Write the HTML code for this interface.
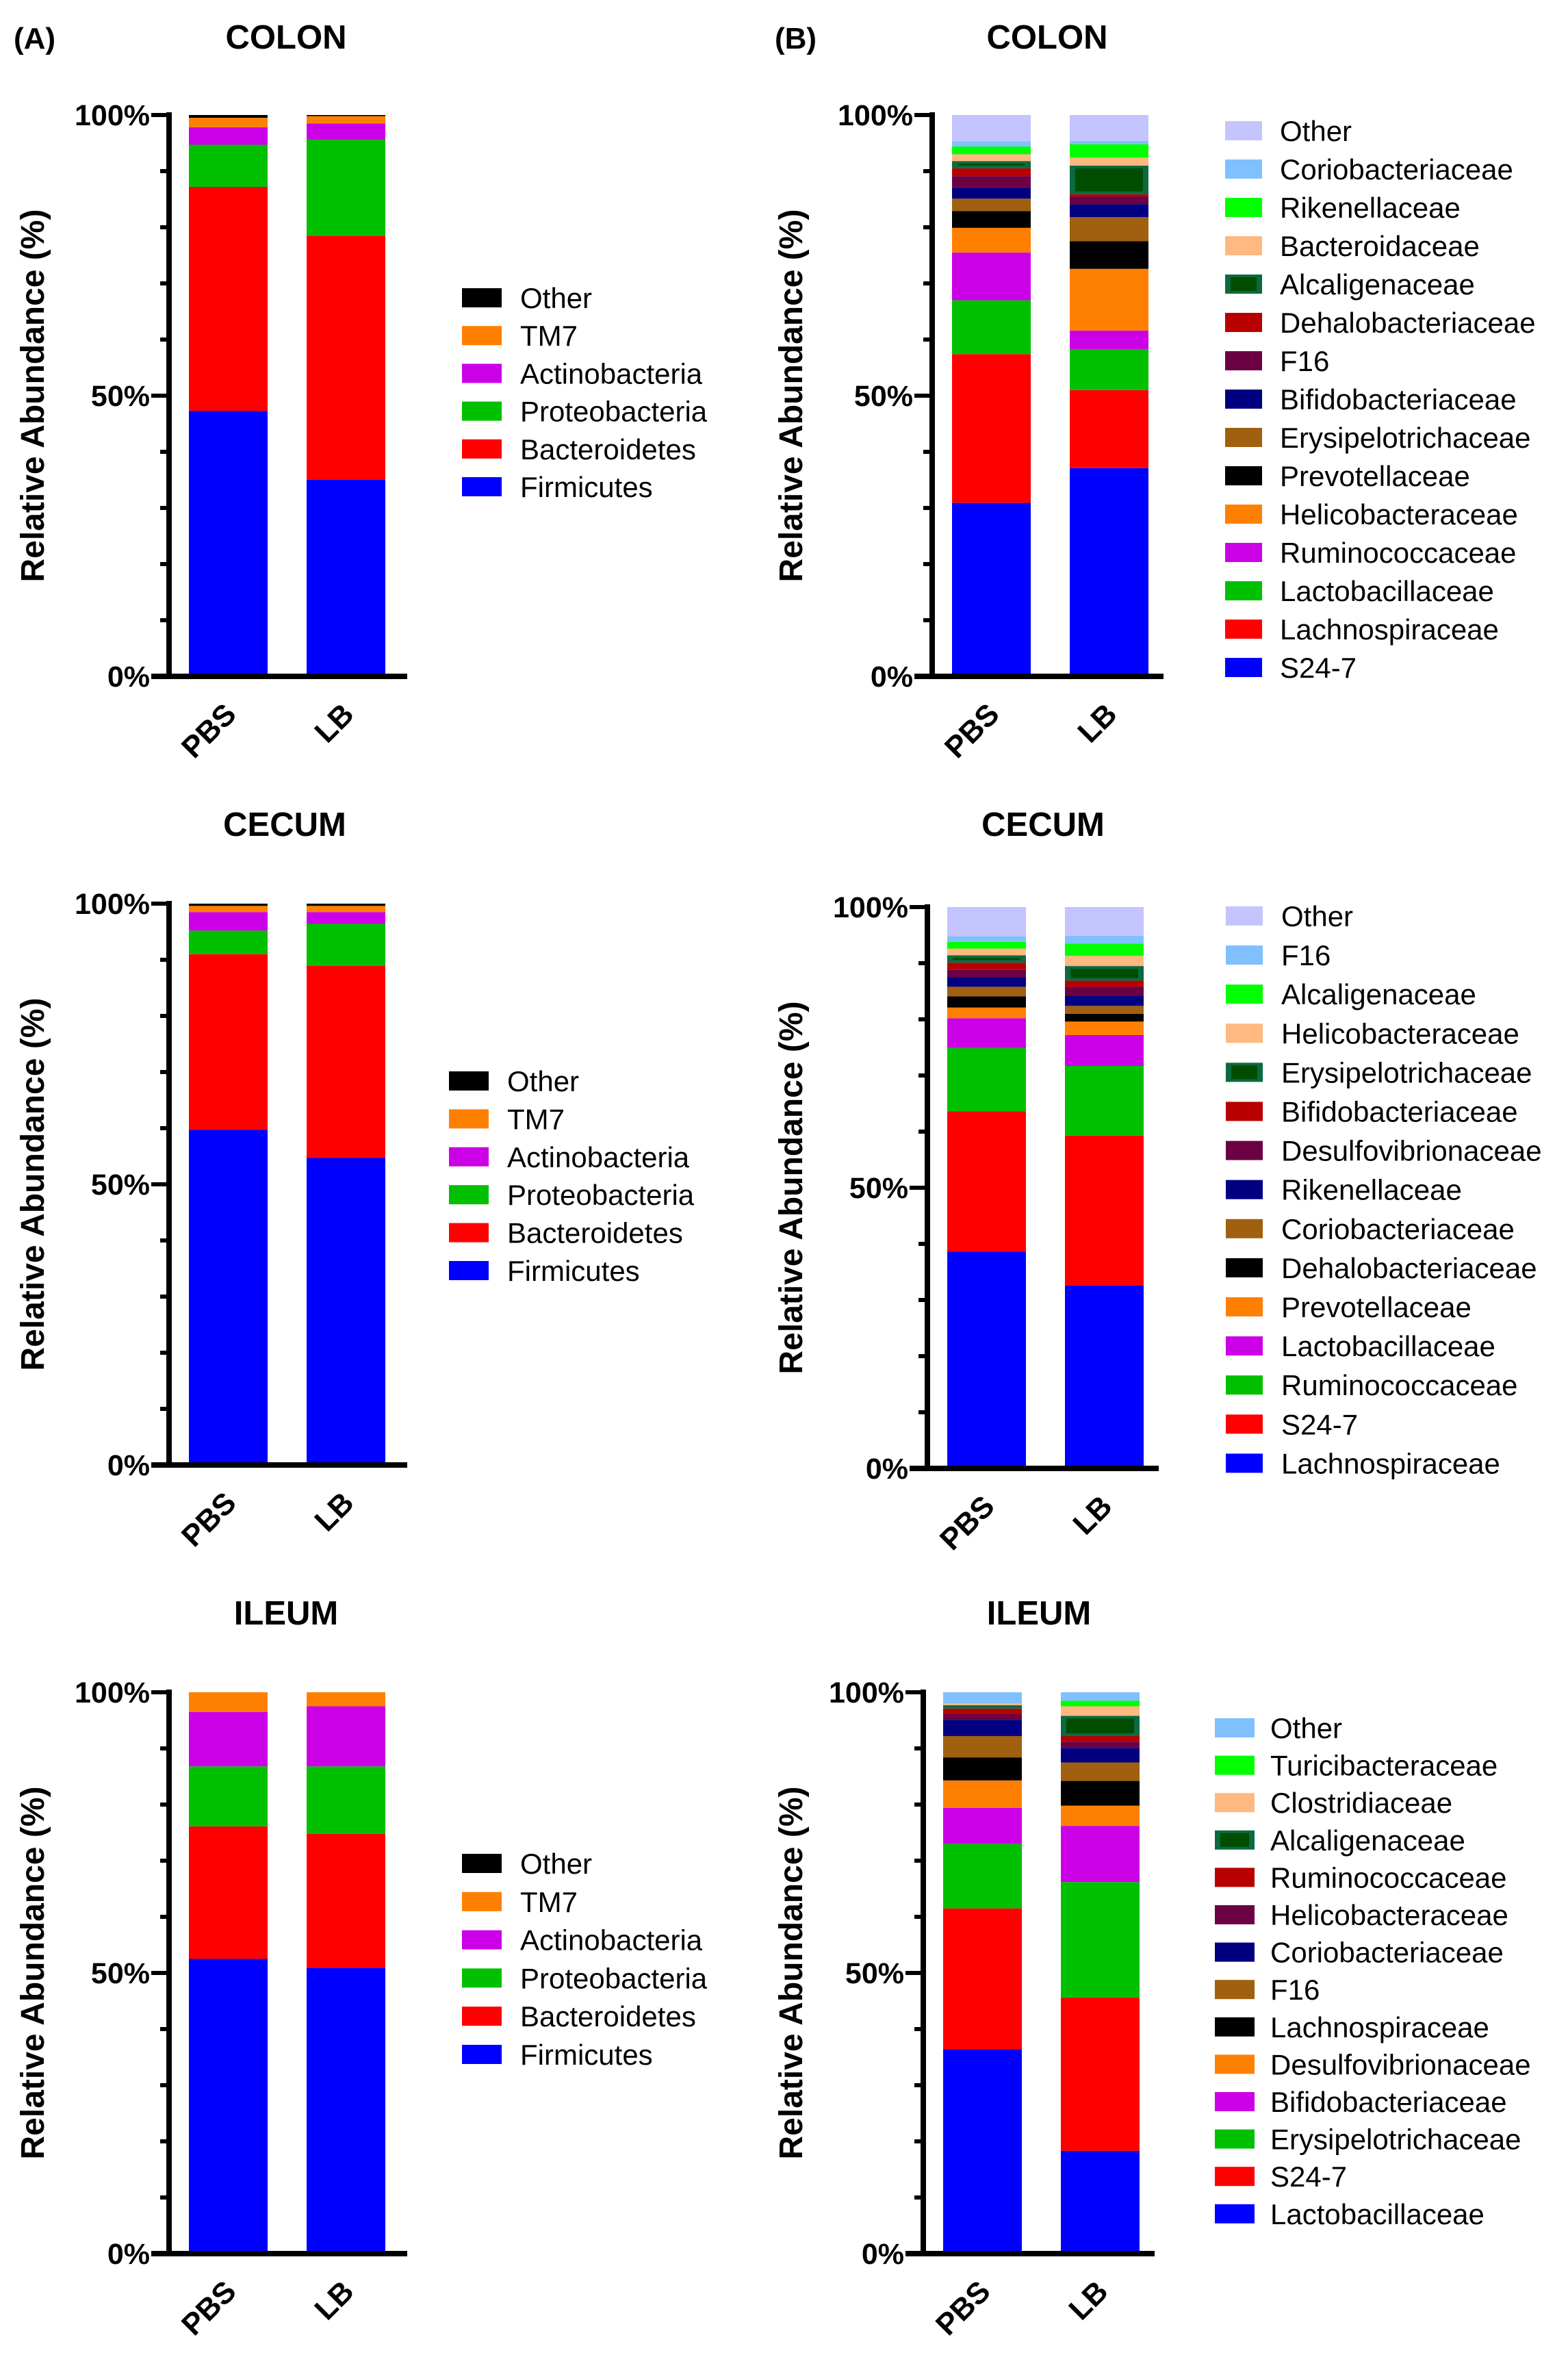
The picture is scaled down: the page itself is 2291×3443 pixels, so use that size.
<!DOCTYPE html>
<html><head><meta charset="utf-8"><style>
html,body{margin:0;padding:0;background:#fff;}
svg{display:block;font-family:"Liberation Sans",Arial,sans-serif;}
</style></head><body>
<svg id="fig" xmlns="http://www.w3.org/2000/svg" width="2291" height="3443" viewBox="0 0 2291 3443"></svg>
<script>
// ---------- DATA ----------
const categories = ["PBS", "LB"];
const yTicks = [0, 50, 100];
const yTickLabels = ["0%", "50%", "100%"];

const phylaNames = ["Firmicutes","Bacteroidetes","Proteobacteria","Actinobacteria","TM7","Other"];
const colonA_PBS = [47.3,39.9,7.5,3.1,1.7,0.5];
const colonA_LB  = [35.0,43.5,17.1,2.9,1.3,0.2];
const cecumA_PBS = [59.7,31.3,4.2,3.3,1.1,0.4];
const cecumA_LB  = [54.7,34.2,7.5,2.1,1.1,0.4];
const ileumA_PBS = [52.5,23.6,10.7,9.7,3.5,0];
const ileumA_LB  = [50.9,23.9,12.0,10.7,2.5,0];

const colonB_names = ["S24-7","Lachnospiraceae","Lactobacillaceae","Ruminococcaceae","Helicobacteraceae","Prevotellaceae","Erysipelotrichaceae","Bifidobacteriaceae","F16","Dehalobacteriaceae","Alcaligenaceae","Bacteroidaceae","Rikenellaceae","Coriobacteriaceae","Other"];
const colonB_PBS = [30.9,26.5,9.6,8.5,4.4,3.0,2.2,2.0,2.0,1.4,1.3,1.2,1.4,0.9,4.7];
const colonB_LB  = [37.1,13.9,7.3,3.3,11.0,4.9,4.3,2.3,1.4,0.4,5.1,1.4,2.4,0.6,4.6];

const cecumB_names = ["Lachnospiraceae","S24-7","Ruminococcaceae","Lactobacillaceae","Prevotellaceae","Dehalobacteriaceae","Coriobacteriaceae","Rikenellaceae","Desulfovibrionaceae","Bifidobacteriaceae","Erysipelotrichaceae","Helicobacteraceae","Alcaligenaceae","F16","Other"];
const cecumB_PBS = [38.6,25.0,11.3,5.3,1.9,2.0,1.7,1.7,1.3,1.3,1.3,1.2,1.2,1.0,5.2];
const cecumB_LB  = [32.6,26.7,12.4,5.5,2.4,1.4,1.4,1.8,1.6,1.1,2.6,1.8,2.2,1.4,5.1];

const ileumB_names = ["Lactobacillaceae","S24-7","Erysipelotrichaceae","Bifidobacteriaceae","Desulfovibrionaceae","Lachnospiraceae","F16","Coriobacteriaceae","Helicobacteraceae","Ruminococcaceae","Alcaligenaceae","Clostridiaceae","Turicibacteraceae","Other"];
const ileumB_PBS = [36.4,25.1,11.5,6.4,4.9,4.1,3.8,2.9,1.0,1.0,0.6,0.3,0,2.0];
const ileumB_LB  = [18.3,27.3,20.6,10.0,3.6,4.4,3.3,2.6,1.1,1.0,3.6,1.7,1.0,1.5];

// ---------- STYLE ----------
const palette = ["#0000ff","#ff0000","#00c000","#cc00e6","#ff8000","#000000","#a0600f","#000080","#6b0045","#b80000","ALC","#ffb980","#00ff00","#80c0ff","#c4c4ff"];
const paletteA = ["#0000ff","#ff0000","#00c000","#cc00e6","#ff8000","#000000"];
const ileumPal = palette.slice(0,13).concat(["#80c0ff"]);

const NS = "http://www.w3.org/2000/svg";
const svg = document.getElementById("fig");
function mk(tag, attrs, parent){
  const e = document.createElementNS(NS, tag);
  for (const k in attrs) e.setAttribute(k, attrs[k]);
  (parent||svg).appendChild(e);
  return e;
}
function fillRect(g, x, y, w, h, col){
  if (col === "ALC"){
    const r = mk("rect",{x:x,y:y,width:w,height:h,fill:"#0b6a40"},g);
    if (h > 10) mk("rect",{x:x+8,y:y+4,width:w-16,height:h-8,fill:"#004d00"},g);
    return r;
  }
  return mk("rect",{x:x,y:y,width:w,height:h,fill:col},g);
}

function drawPanel(p){
  const g = mk("g",{});
  
  
  const y0 = p.top + 820, yS = v => y0 - v/100*820;
  const xBar = i => p.axisX + 29 + i*172;
  const bw = 115;
  const t = mk("text",{x:p.titleX,y:p.titleY,"font-size":49,"font-weight":"bold","text-anchor":"middle"},g);
  t.textContent = p.title;
  
  
  if (p.letter){
    const l = mk("text",{x:p.letterX,y:p.titleY,"font-size":44,"font-weight":"bold"},g);
    l.textContent = p.letter;
    
    
  }
  p.series.forEach((vals, ci) => {
    const bg = mk("g",{},g);
    
    
    let acc = 0;
    vals.forEach((v, si) => {
      if (v <= 0) { return; }
      const yt = yS(acc + v), yb = yS(acc);
      const r = fillRect(bg, xBar(ci), yt, bw, yb - yt, p.colors[si]);
      
      
      acc += v;
    });
  });
  const ax = mk("g",{},g);
  
  
  mk("line",{x1:p.axisX,y1:p.top-4,x2:p.axisX,y2:y0+4,stroke:"#000","stroke-width":8},ax);
  mk("line",{x1:p.axisX-26,y1:y0,x2:xBar(1)+bw+p.xEnd,y2:y0,stroke:"#000","stroke-width":8},ax);
  for (let v = 0; v <= 100; v += 10){
    const major = yTicks.indexOf(v) >= 0;
    mk("line",{x1:p.axisX-(major?26:13),y1:yS(v),x2:p.axisX,y2:yS(v),stroke:"#000","stroke-width":6},ax);
  }
  yTicks.forEach((v, i) => {
    const tl = mk("text",{x:p.axisX-28,y:yS(v)+15,"font-size":43,"font-weight":"bold","text-anchor":"end"},ax);
    tl.textContent = yTickLabels[i];
    
    
  });
  categories.forEach((c, i) => {
    const cx = xBar(i) + bw/2 + 14, cy = y0 + 58;
    const xl = mk("text",{x:cx,y:cy,"font-size":44,"font-weight":"bold","text-anchor":"end",transform:"rotate(-45 "+cx+" "+cy+")"},ax);
    xl.textContent = c;
    
    
  });
  const ytx = p.yTitleX, yty = p.top + 410;
  const yt = mk("text",{x:ytx,y:yty,"font-size":48,"font-weight":"bold","text-anchor":"middle",transform:"rotate(-90 "+ytx+" "+yty+")"},ax);
  yt.textContent = "Relative Abundance (%)";
  
  
  const lg = mk("g",{},g);
  
  
  const n = p.names.length;
  for (let k = 0; k < n; k++){
    const si = n - 1 - k;
    const cy = p.legTop + k*p.legStep;
    const e = mk("g",{},lg);
    
    
    fillRect(e, p.swX, cy-14, p.swW, 28, p.colors[si]);
    const tx = mk("text",{x:p.txX,y:cy+15,"font-size":42},e);
    tx.textContent = p.names[si];
  }
}

const A = {axisX:247, yTitleX:64, swX:675, swW:58, txX:760, xEnd:32, legStep:55.2};
const B = {yTitleX:1172, swW:54, xEnd:22};
drawPanel(Object.assign({},A,{id:"colon-a",title:"COLON",titleX:418,titleY:71,letter:"(A)",letterX:20,top:168,series:[colonA_PBS,colonA_LB],names:phylaNames,colors:paletteA,legTop:435}));
drawPanel(Object.assign({},A,{id:"cecum-a",title:"CECUM",titleX:416,titleY:1221,top:1320,swX:656,txX:741,series:[cecumA_PBS,cecumA_LB],names:phylaNames,colors:paletteA,legTop:1579,legStep:55.4}));
drawPanel(Object.assign({},A,{id:"ileum-a",title:"ILEUM",titleX:418,titleY:2373,top:2472,series:[ileumA_PBS,ileumA_LB],names:phylaNames,colors:paletteA,legTop:2722,legStep:55.8}));
drawPanel(Object.assign({},B,{id:"colon-b",title:"COLON",titleX:1530,titleY:71,letter:"(B)",letterX:1132,axisX:1362,top:168,series:[colonB_PBS,colonB_LB],names:colonB_names,colors:palette,swX:1790,txX:1870,legTop:191,legStep:56}));
drawPanel(Object.assign({},B,{id:"cecum-b",title:"CECUM",titleX:1524,titleY:1221,axisX:1355,top:1325,series:[cecumB_PBS,cecumB_LB],names:cecumB_names,colors:palette,swX:1791,txX:1872,legTop:1338,legStep:57.1}));
drawPanel(Object.assign({},B,{id:"ileum-b",title:"ILEUM",titleX:1518,titleY:2373,axisX:1349,top:2472,series:[ileumB_PBS,ileumB_LB],names:ileumB_names,colors:ileumPal,swX:1775,swW:58,txX:1856,legTop:2524,legStep:54.6}));
</script>
</body></html>
